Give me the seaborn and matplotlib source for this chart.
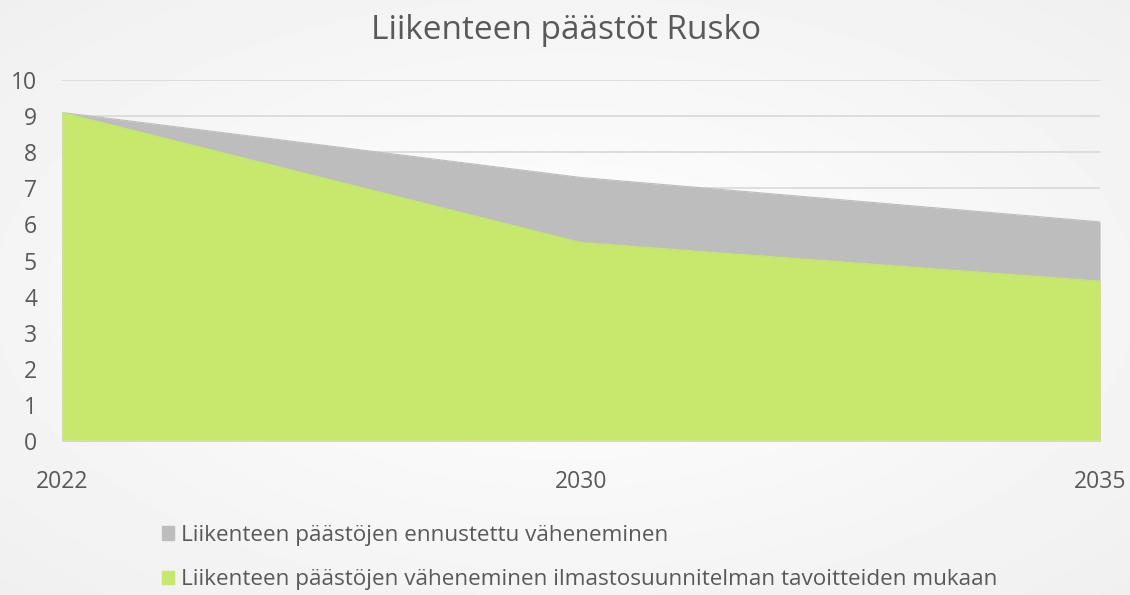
import numpy as np
import pandas as pd
import matplotlib.pyplot as plt
import seaborn as sns
from matplotlib.patches import Patch

# data
years = ["2022", "2030", "2035"]
forecast = [9.1, 7.3, 6.07]
target = [9.1, 5.5, 4.43]
labels = [
    "Liikenteen päästöjen ennustettu väheneminen",
    "Liikenteen päästöjen väheneminen ilmastosuunnitelman tavoitteiden mukaan",
]
title = "Liikenteen päästöt Rusko"

GRAY = "#bdbdbd"
GREEN = "#c7e76d"
TEXT = "#595959"

sns.set_theme(style="white")
plt.rcParams["font.family"] = ["Open Sans", "DejaVu Sans"]

df = pd.DataFrame({"year": years, "forecast": forecast, "target": target})
df["pos"] = np.arange(len(df))

fig = plt.figure(figsize=(11.3, 5.95), dpi=100)

# soft radial background like the original slide
bg = fig.add_axes([0, 0, 1, 1], zorder=-10)
yy, xx = np.mgrid[-1:1:300j, -1:1:600j]
r = np.sqrt(xx ** 2 + yy ** 2) / np.sqrt(2)
bg.imshow(1 - 0.06 * r, cmap="gray", vmin=0, vmax=1, aspect="auto",
          extent=[0, 1, 0, 1])
bg.axis("off")

ax = fig.add_axes([0.0549, 0.2588, 0.9186, 0.6067])
ax.patch.set_alpha(0)

ax.fill_between(df["pos"], df["forecast"], color=GRAY, lw=0, zorder=2)
ax.fill_between(df["pos"], df["target"], color=GREEN, lw=0, zorder=3)
sns.lineplot(data=df, x="pos", y="forecast", color=GRAY, lw=0.8, ax=ax, zorder=2)
sns.lineplot(data=df, x="pos", y="target", color=GREEN, lw=0.8, ax=ax, zorder=3)

ax.set_xlim(0, len(df) - 1)
ax.set_ylim(0, 10)
ax.set_yticks(range(0, 11))
ax.set_xticks(df["pos"])
ax.set_xticklabels(df["year"])
ax.set_xlabel("")
ax.set_ylabel("")
for y in range(1, 11):
    ax.axhline(y, color="#d9d9d9", lw=1.2, zorder=1)
ax.axhline(0, color="#d9d9d9", lw=1.2, zorder=4)

for s in ax.spines.values():
    s.set_visible(False)
ax.tick_params(axis="y", length=0, pad=18, labelsize=16.5, labelcolor=TEXT)
ax.tick_params(axis="x", length=0, pad=21, labelsize=16.5, labelcolor=TEXT)

fig.text(0.501, 0.948, title, ha="center", va="center", fontsize=24, color=TEXT)

handles = [Patch(color=GRAY), Patch(color=GREEN)]
fig.legend(handles, labels, loc="upper left", bbox_to_anchor=(0.135, 0.133),
           frameon=False, fontsize=16.2, labelcolor=TEXT, handlelength=0.55,
           handleheight=0.55, handletextpad=0.3, labelspacing=1.05,
           borderaxespad=0)

fig.savefig("out.png", dpi=100)
plt.close(fig)
